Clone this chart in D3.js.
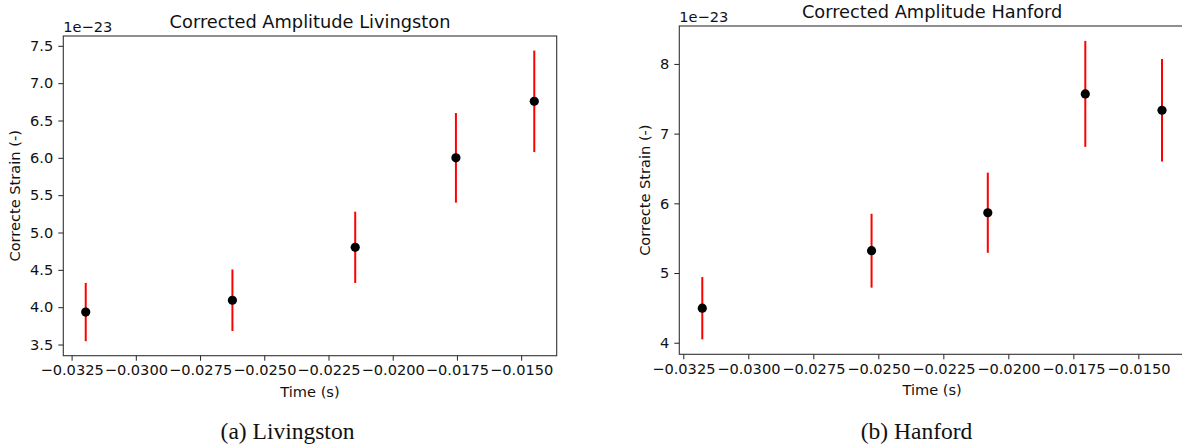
<!DOCTYPE html>
<html>
<head>
<meta charset="utf-8">
<script src="https://cdn.jsdelivr.net/npm/d3@7"></script>
<style>
  html, body { margin: 0; padding: 0; background: #fff; }
  svg { display: block; }
  text { font-family: "DejaVu Sans", sans-serif; fill: #111; }
  .caption { font-family: "Liberation Serif", "DejaVu Serif", serif; }
</style>
</head>
<body>
<svg id="fig" width="1182" height="448"></svg>
<script>
// Corrected strain amplitude vs time (strain in units of 1e-23)
const strainExponent = -23;

const timeLivingston = [-0.03195, -0.02624, -0.02146, -0.01754, -0.01449];
const ampLivingston  = [3.935, 4.093, 4.802, 6.000, 6.757];
const errLivingston  = [0.390, 0.412, 0.477, 0.600, 0.680];

const timeHanford = [-0.03177, -0.02526, -0.02079, -0.01704, -0.01409];
const ampHanford  = [4.495, 5.320, 5.865, 7.570, 7.335];
const errHanford  = [0.447, 0.530, 0.575, 0.760, 0.735];

const timeTicks = [-0.0325, -0.0300, -0.0275, -0.0250, -0.0225, -0.0200, -0.0175, -0.0150];
const ticksLivingston = [3.5, 4.0, 4.5, 5.0, 5.5, 6.0, 6.5, 7.0, 7.5];
const ticksHanford = [4, 5, 6, 7, 8];

const svg = d3.select("#fig");
const labelSize = 14.6;

function padded(lo, hi) {
  const m = (hi - lo) * 0.05;
  return [lo - m, hi + m];
}

function panel(o) {
  const { box, times, amps, errs, yTicks, yFmt, title, caption } = o;
  const g = svg.append("g");

  const x = d3.scaleLinear()
    .domain(padded(d3.min(times), d3.max(times)))
    .range([box.x0, box.x1]);
  const y = d3.scaleLinear()
    .domain(padded(d3.min(amps, (a, i) => a - errs[i]), d3.max(amps, (a, i) => a + errs[i])))
    .range([box.y1, box.y0]);

  const minus = s => s.replace("-", "\u2212");

  // axes
  const xAxis = d3.axisBottom(x).tickValues(timeTicks)
    .tickFormat(d => minus(d3.format(".4f")(d))).tickSize(5).tickPadding(4);
  const yAxis = d3.axisLeft(y).tickValues(yTicks)
    .tickFormat(d => yFmt(d)).tickSize(5).tickPadding(5);

  const gx = g.append("g").attr("transform", `translate(0,${box.y1})`).call(xAxis);
  const gy = g.append("g").attr("transform", `translate(${box.x0},0)`).call(yAxis);
  [gx, gy].forEach(a => {
    a.select(".domain").remove();
    a.selectAll(".tick line").attr("stroke", "#222").attr("stroke-width", 1);
    a.selectAll(".tick text").attr("font-size", labelSize).attr("fill", "#111")
      .style("font-family", "'DejaVu Sans', sans-serif");
  });

  // frame
  g.append("rect")
    .attr("x", box.x0).attr("y", box.y0)
    .attr("width", box.x1 - box.x0).attr("height", box.y1 - box.y0)
    .attr("fill", "none").attr("stroke", "#333").attr("stroke-width", 1.1);

  // error bars
  g.append("g").selectAll("line").data(times).join("line")
    .attr("x1", (t) => x(t)).attr("x2", (t) => x(t))
    .attr("y1", (t, i) => y(amps[i] - errs[i]))
    .attr("y2", (t, i) => y(amps[i] + errs[i]))
    .attr("stroke", "#ff0000").attr("stroke-width", 2);

  // markers
  g.append("g").selectAll("circle").data(times).join("circle")
    .attr("cx", (t) => x(t)).attr("cy", (t, i) => y(amps[i]))
    .attr("r", 4.6).attr("fill", "#000");

  // titles and labels
  const cx = (box.x0 + box.x1) / 2;
  g.append("text").attr("x", cx).attr("y", box.y0 - 8)
    .attr("text-anchor", "middle").attr("font-size", 17.8).text(title);
  g.append("text").attr("x", box.x0).attr("y", box.y0 - 4)
    .attr("font-size", labelSize).text(`1e\u2212${-strainExponent}`);
  g.append("text").attr("x", cx).attr("y", box.y1 + 41)
    .attr("text-anchor", "middle").attr("font-size", labelSize).text("Time (s)");
  g.append("text")
    .attr("transform", `translate(${o.yLabelX},${(box.y0 + box.y1) / 2}) rotate(-90)`)
    .attr("text-anchor", "middle").attr("font-size", labelSize).text("Correcte Strain (-)");
  svg.append("text").attr("class", "caption")
    .attr("x", o.captionX).attr("y", 439)
    .attr("text-anchor", "middle").attr("font-size", 23.5).text(caption);
}

panel({
  box: { x0: 63.3, x1: 556.7, y0: 36, y1: 355.7 },
  times: timeLivingston, amps: ampLivingston, errs: errLivingston,
  yTicks: ticksLivingston, yFmt: d3.format(".1f"),
  title: "Corrected Amplitude Livingston",
  caption: "(a) Livingston", captionX: 287.5, yLabelX: 20
});

panel({
  box: { x0: 679.3, x1: 1185, y0: 26, y1: 354.3 },
  times: timeHanford, amps: ampHanford, errs: errHanford,
  yTicks: ticksHanford, yFmt: d3.format("d"),
  title: "Corrected Amplitude Hanford",
  caption: "(b) Hanford", captionX: 916.5, yLabelX: 650
});
</script>
</body>
</html>
